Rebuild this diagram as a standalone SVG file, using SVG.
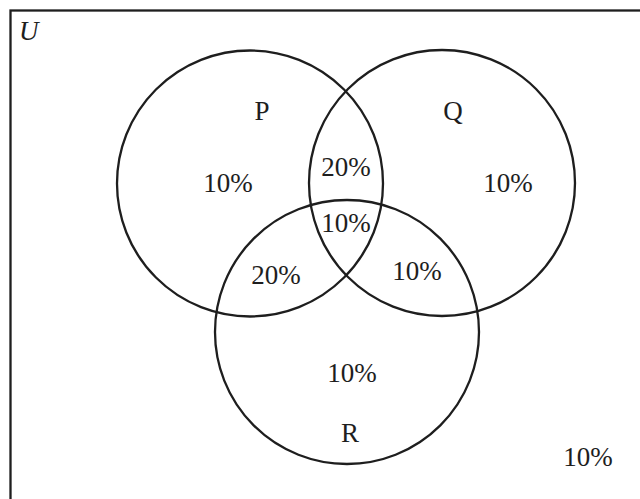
<svg xmlns="http://www.w3.org/2000/svg" width="640" height="499" viewBox="0 0 640 499">
<style>
.c{fill:none;stroke:#1e1e1e;stroke-width:2.3}
.t{font-family:"Liberation Serif","Times New Roman",serif;font-size:27px;fill:#1e1e1e;text-anchor:middle}
</style>
<rect x="0" y="0" width="640" height="499" fill="#fff"/>
<g id="universe">
<rect x="10.5" y="10.5" width="640" height="500" class="c" stroke-width="2.6"/>
<text x="19" y="40" class="t" style="text-anchor:start;font-style:italic">U</text>
<text x="588" y="466" class="t">10%</text>
</g>
<g id="P">
<circle cx="250" cy="183.5" r="133" class="c"/>
<text x="262" y="120" class="t">P</text>
<text x="228" y="192" class="t">10%</text>
</g>
<g id="Q">
<circle cx="442" cy="183" r="133" class="c"/>
<text x="453" y="120" class="t">Q</text>
<text x="508" y="192" class="t">10%</text>
</g>
<g id="R">
<circle cx="347" cy="332" r="132" class="c"/>
<text x="350" y="442" class="t">R</text>
<text x="352" y="382" class="t">10%</text>
</g>
<g id="regions">
<text x="346" y="176" class="t">20%</text>
<text x="346" y="232" class="t">10%</text>
<text x="276" y="284" class="t">20%</text>
<text x="417" y="280" class="t">10%</text>
</g>
</svg>
